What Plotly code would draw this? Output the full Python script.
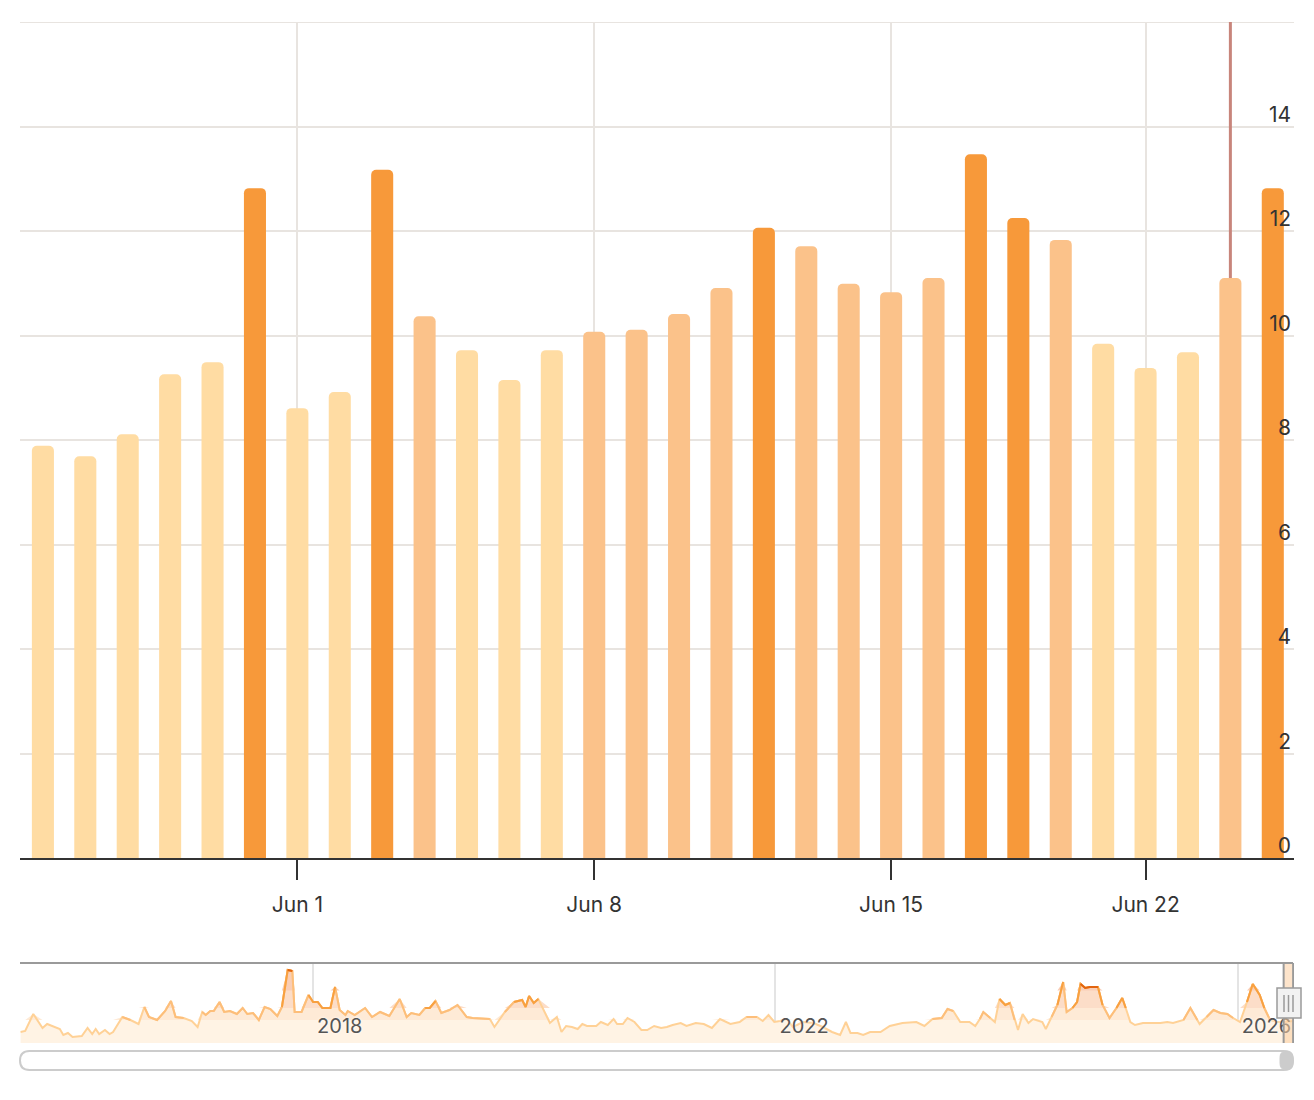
import numpy as np
import pandas as pd
import plotly.graph_objects as go

# ---------------- main chart data ----------------
dates = ["2026-05-26", "2026-05-27", "2026-05-28", "2026-05-29", "2026-05-30", "2026-05-31",
         "2026-06-01", "2026-06-02", "2026-06-03", "2026-06-04", "2026-06-05", "2026-06-06",
         "2026-06-07", "2026-06-08", "2026-06-09", "2026-06-10", "2026-06-11", "2026-06-12",
         "2026-06-13", "2026-06-14", "2026-06-15", "2026-06-16", "2026-06-17", "2026-06-18",
         "2026-06-20", "2026-06-21", "2026-06-22", "2026-06-23", "2026-06-24", "2026-06-25"]
values = [7.89, 7.69, 8.11, 9.26, 9.49, 12.82, 8.61, 8.92, 13.17, 10.37,
          9.72, 9.15, 9.72, 10.07, 10.11, 10.41, 10.91, 12.06, 11.71, 10.99,
          10.83, 11.10, 13.47, 12.25, 11.83, 9.84, 9.38, 9.68, 11.10, 12.82]
tick_dates = ["2026-06-01", "2026-06-08", "2026-06-15", "2026-06-22"]
tick_labels = ["Jun 1", "Jun 8", "Jun 15", "Jun 22"]
y_tickvals = [0, 2, 4, 6, 8, 10, 12, 14, 16]
y_ticktext = ["0", "2", "4", "6", "8", "10", "12", "14", ""]
highlight_date = "2026-06-24"

# ---------------- navigator data ----------------
nav_years = [
    2015.47, 2015.51, 2015.58, 2015.66, 2015.70, 2015.75, 2015.81, 2015.84, 2015.88, 2015.92,
    2016.00, 2016.05, 2016.09, 2016.12, 2016.15, 2016.20, 2016.24, 2016.27, 2016.35, 2016.42,
    2016.49, 2016.54, 2016.58, 2016.65, 2016.72, 2016.77, 2016.81, 2016.88, 2016.95, 2017.00,
    2017.04, 2017.07, 2017.11, 2017.14, 2017.19, 2017.23, 2017.28, 2017.34, 2017.39, 2017.43,
    2017.48, 2017.53, 2017.58, 2017.63, 2017.69, 2017.73, 2017.78, 2017.82, 2017.84, 2017.90,
    2017.96, 2018.00, 2018.04, 2018.08, 2018.15, 2018.19, 2018.23, 2018.28, 2018.30, 2018.36,
    2018.45, 2018.51, 2018.58, 2018.66, 2018.75, 2018.81, 2018.85, 2018.92, 2018.97, 2019.01,
    2019.06, 2019.11, 2019.18, 2019.25, 2019.33, 2019.38, 2019.53, 2019.57, 2019.66, 2019.74,
    2019.81, 2019.84, 2019.87, 2019.91, 2019.95, 2020.05, 2020.11, 2020.15, 2020.19, 2020.24,
    2020.29, 2020.33, 2020.37, 2020.45, 2020.49, 2020.55, 2020.60, 2020.63, 2020.68, 2020.72,
    2020.78, 2020.84, 2020.89, 2020.95, 2021.01, 2021.06, 2021.11, 2021.18, 2021.23, 2021.31,
    2021.38, 2021.45, 2021.52, 2021.61, 2021.69, 2021.75, 2021.84, 2021.89, 2021.94, 2021.99,
    2022.04, 2022.10, 2022.15, 2022.24, 2022.33, 2022.41, 2022.49, 2022.56, 2022.61, 2022.65,
    2022.71, 2022.76, 2022.82, 2022.91, 2022.99, 2023.10, 2023.22, 2023.29, 2023.36, 2023.44,
    2023.49, 2023.54, 2023.60, 2023.68, 2023.73, 2023.77, 2023.80, 2023.86, 2023.90, 2023.94,
    2023.99, 2024.03, 2024.07, 2024.10, 2024.14, 2024.19, 2024.23, 2024.31, 2024.34, 2024.39,
    2024.44, 2024.49, 2024.52, 2024.57, 2024.61, 2024.64, 2024.68, 2024.72, 2024.79, 2024.83,
    2024.89, 2024.95, 2025.00, 2025.03, 2025.07, 2025.11, 2025.18, 2025.33, 2025.39, 2025.44,
    2025.53, 2025.59, 2025.65, 2025.67, 2025.73, 2025.79, 2025.85, 2025.91, 2025.96, 2026.02,
    2026.08, 2026.13, 2026.19, 2026.23, 2026.28, 2026.34, 2026.41, 2026.48]
nav_values = [
    4.4, 4.8, 11.6, 6.0, 7.6, 6.8, 5.6, 3.2, 4.0, 2.4,
    2.8, 6.0, 3.6, 5.6, 3.6, 5.2, 3.6, 4.4, 10.4, 9.2,
    7.6, 14.4, 10.4, 9.2, 12.8, 16.8, 10.4, 10.0, 8.8, 6.4,
    12.4, 11.2, 12.8, 12.8, 16.4, 12.4, 12.8, 11.6, 14.0, 11.6,
    12.0, 9.2, 14.4, 13.6, 10.8, 14.4, 29.2, 28.8, 12.4, 12.4,
    19.2, 16.4, 16.4, 14.0, 14.0, 22.4, 13.2, 11.2, 12.8, 11.2,
    14.0, 10.4, 12.4, 10.8, 17.6, 10.4, 12.0, 11.2, 14.0, 14.0,
    16.8, 12.0, 13.2, 15.2, 10.4, 10.0, 9.6, 6.4, 12.4, 16.4,
    17.2, 14.4, 18.8, 16.0, 17.6, 8.0, 10.4, 4.4, 6.8, 6.4,
    5.6, 7.6, 6.8, 6.8, 8.4, 7.2, 9.6, 7.6, 7.6, 10.0,
    8.4, 5.2, 5.2, 6.8, 6.0, 6.4, 7.2, 8.0, 6.8, 8.0,
    7.6, 6.0, 9.6, 7.6, 8.4, 10.4, 10.4, 8.8, 11.2, 8.4,
    8.8, 9.6, 6.4, 8.4, 8.0, 6.4, 4.4, 3.2, 8.4, 4.0,
    4.0, 3.2, 4.4, 4.4, 6.8, 8.0, 8.4, 6.8, 9.6, 10.0,
    13.6, 12.8, 8.4, 8.4, 6.8, 9.6, 12.4, 10.0, 8.4, 17.6,
    15.2, 16.0, 9.2, 5.2, 11.6, 8.0, 9.6, 8.4, 5.6, 10.4,
    15.2, 24.4, 12.4, 14.0, 16.4, 23.6, 22.0, 22.4, 22.4, 15.2,
    10.0, 14.0, 18.0, 14.0, 8.4, 7.2, 8.0, 8.0, 8.4, 8.0,
    9.2, 14.0, 9.2, 7.6, 10.4, 13.2, 12.0, 11.6, 10.0, 8.4,
    16.4, 23.6, 19.2, 14.0, 9.2, 8.4, 8.4, 8.8]
nav_year_ticks = ["2018-01-01", "2022-01-01", "2026-01-01"]
nav_year_labels = ["2018", "2022", "2026"]
nav_range = [2015.465, 2026.487]
selected_range = ["2026-05-26", "2026-06-25"]


def dec_to_date(y):
    yr = int(np.floor(y))
    start = pd.Timestamp(yr, 1, 1)
    end = pd.Timestamp(yr + 1, 1, 1)
    return start + (end - start) * (y - yr)


nav_dates = [dec_to_date(y) for y in nav_years]
nav_v = np.array(nav_values)

# ---------------- styling ----------------
DARK, MED, LIGHT = "#F7993A", "#FBC28A", "#FFDCA3"
bar_colors = [DARK if v >= 12 else (MED if v >= 10 else LIGHT) for v in values]
GRID = "#E8E4E0"
TXT = "#333333"
FONT = "Inter, Lato, sans-serif"

W, H = 1314, 1100
ML, MR, MT, MB = 20, 20, 22, 57
PW = W - ML - MR
PH = H - MT - MB
main_bottom_px = 858
nav_top_px = 963


def px2paper(px, py):
    return (px - ML) / PW, (H - MB - py) / PH


fig = go.Figure()

# navigator: fills by zone
thresholds = [9.2, 14.0, 21.0]
fill_colors = ["#FEEAD6", "#FCDDC8", "#F9CDB5"]
line_colors = ["#FDBE7A", "#F8A040", "#E2640F"]

fig.add_trace(go.Scatter(x=nav_dates, y=nav_v, mode="lines", fill="tozeroy",
                         fillcolor="#FFF3E4", line=dict(width=0, color="#FFF3E4"),
                         xaxis="x2", yaxis="y2", hoverinfo="skip", showlegend=False))
for t, fc in zip(thresholds, fill_colors):
    fig.add_trace(go.Scatter(x=nav_dates, y=np.full(len(nav_v), t), mode="lines",
                             line=dict(width=0), xaxis="x2", yaxis="y2",
                             hoverinfo="skip", showlegend=False))
    fig.add_trace(go.Scatter(x=nav_dates, y=np.maximum(nav_v, t), mode="lines",
                             fill="tonexty", fillcolor=fc, line=dict(width=0),
                             xaxis="x2", yaxis="y2", hoverinfo="skip", showlegend=False))
fig.add_trace(go.Scatter(x=nav_dates, y=nav_v, mode="lines",
                         line=dict(width=2, color="#FFD196"),
                         xaxis="x2", yaxis="y2", hoverinfo="skip", showlegend=False))
for t, lc in zip(thresholds, line_colors):
    masked = [v if v >= t else None for v in nav_values]
    fig.add_trace(go.Scatter(x=nav_dates, y=masked, mode="lines",
                             line=dict(width=2, color=lc), connectgaps=False,
                             xaxis="x2", yaxis="y2", hoverinfo="skip", showlegend=False))

# main bars
fig.add_trace(go.Bar(x=dates, y=values, marker=dict(color=bar_colors, line=dict(width=0)),
                     xaxis="x", yaxis="y", showlegend=False))

main_dom_bottom = (H - MB - main_bottom_px) / PH
nav_dom_top = (H - MB - nav_top_px) / PH

shapes = []
# top gridline (value 16)
shapes.append(dict(type="line", xref="paper", yref="y", x0=0, x1=1, y0=16, y1=16,
                   line=dict(color=GRID, width=2), layer="below"))
# highlight vertical line
shapes.append(dict(type="line", xref="x", yref="y", x0=highlight_date, x1=highlight_date,
                   y0=0, y1=16, line=dict(color="#C8857B", width=3), layer="between"))
# navigator selected band
shapes.append(dict(type="rect", xref="x2", yref="paper", x0=selected_range[0], x1=selected_range[1],
                   y0=0, y1=nav_dom_top, fillcolor="rgba(252,205,160,0.55)", line=dict(width=0),
                   layer="above"))
# navigator outline: top line and verticals
shapes.append(dict(type="line", xref="paper", yref="paper", x0=0, x1=px2paper(1293, 0)[0],
                   y0=nav_dom_top, y1=nav_dom_top, line=dict(color="#9A9A9A", width=2)))
for xd in selected_range:
    shapes.append(dict(type="line", xref="x2", yref="paper", x0=xd, x1=xd,
                       y0=0, y1=nav_dom_top, line=dict(color="#9A9A9A", width=2)))
# navigator handle
hx0, hy0 = px2paper(1277, 1018)
hx1, hy1 = px2paper(1301, 988)
shapes.append(dict(type="rect", xref="paper", yref="paper", x0=hx0, x1=hx1, y0=hy0, y1=hy1,
                   fillcolor="#F2F2F2", line=dict(color="#9A9A9A", width=1.5)))
for gx in [1284, 1288.5, 1293]:
    gx0, gy0 = px2paper(gx, 1012)
    _, gy1 = px2paper(gx, 995)
    shapes.append(dict(type="line", xref="paper", yref="paper", x0=gx0, x1=gx0, y0=gy0, y1=gy1,
                       line=dict(color="#9A9A9A", width=1.5)))


def rounded_rect(x0, x1, y0, y1, r):
    def p(px, py):
        a, b = px2paper(px, py)
        return f"{a:.6f},{b:.6f}"
    return (f"M {p(x0 + r, y0)} L {p(x1 - r, y0)} Q {p(x1, y0)} {p(x1, y0 + r)} "
            f"L {p(x1, y1 - r)} Q {p(x1, y1)} {p(x1 - r, y1)} L {p(x0 + r, y1)} "
            f"Q {p(x0, y1)} {p(x0, y1 - r)} L {p(x0, y0 + r)} Q {p(x0, y0)} {p(x0 + r, y0)} Z")


shapes.append(dict(type="path", xref="paper", yref="paper",
                   path=rounded_rect(20, 1293, 1051, 1070, 9.5),
                   fillcolor="white", line=dict(color="#CCCCCC", width=2)))
shapes.append(dict(type="path", xref="paper", yref="paper",
                   path=rounded_rect(1280, 1293, 1051, 1070, 6.5),
                   fillcolor="#CCCCCC", line=dict(color="#CCCCCC", width=1)))

fig.update_layout(
    width=W, height=H,
    margin=dict(l=ML, r=MR, t=MT, b=MB, pad=0),
    paper_bgcolor="white", plot_bgcolor="white",
    font=dict(family=FONT, color=TXT, size=21),
    bargap=0.48, barcornerradius=5,
    showlegend=False,
    xaxis=dict(type="category", domain=[0, 1], anchor="y", range=[-0.54, 29.5],
               categoryorder="array", categoryarray=dates,
               tickmode="array", tickvals=tick_dates, ticktext=tick_labels,
               ticks="outside", ticklen=20, tickwidth=2, tickcolor=TXT,
               ticklabelstandoff=7,
               showline=True, linecolor=TXT, linewidth=2,
               showgrid=True, gridcolor=GRID, gridwidth=2,
               tickfont=dict(size=21, color=TXT, family=FONT)),
    yaxis=dict(domain=[main_dom_bottom, 1], anchor="x", range=[0, 16], side="right",
               tickmode="array", tickvals=y_tickvals, ticktext=y_ticktext,
               ticklabelposition="inside", ticklabelshift=-12, ticklabeloverflow="allow",
               ticks="",
               showgrid=True, gridcolor=GRID, gridwidth=2, zeroline=False, showline=False,
               tickfont=dict(size=21, color=TXT, family=FONT)),
    xaxis2=dict(type="date", domain=[0, 1], anchor="y2",
                range=[dec_to_date(nav_range[0]), dec_to_date(nav_range[1])],
                tickmode="array", tickvals=nav_year_ticks, ticktext=nav_year_labels,
                ticklabelposition="inside right", ticklabelshift=4, ticks="",
                showgrid=True, gridcolor="#E4E4E4", gridwidth=2, showline=False, zeroline=False,
                tickfont=dict(size=20, color="#555555", family=FONT,
                              shadow="0px 0px 3px white")),
    yaxis2=dict(domain=[0, nav_dom_top], anchor="x2", range=[0, 32], visible=False,
                showgrid=False, zeroline=False),
    shapes=shapes,
)

fig.write_html("out.html")
